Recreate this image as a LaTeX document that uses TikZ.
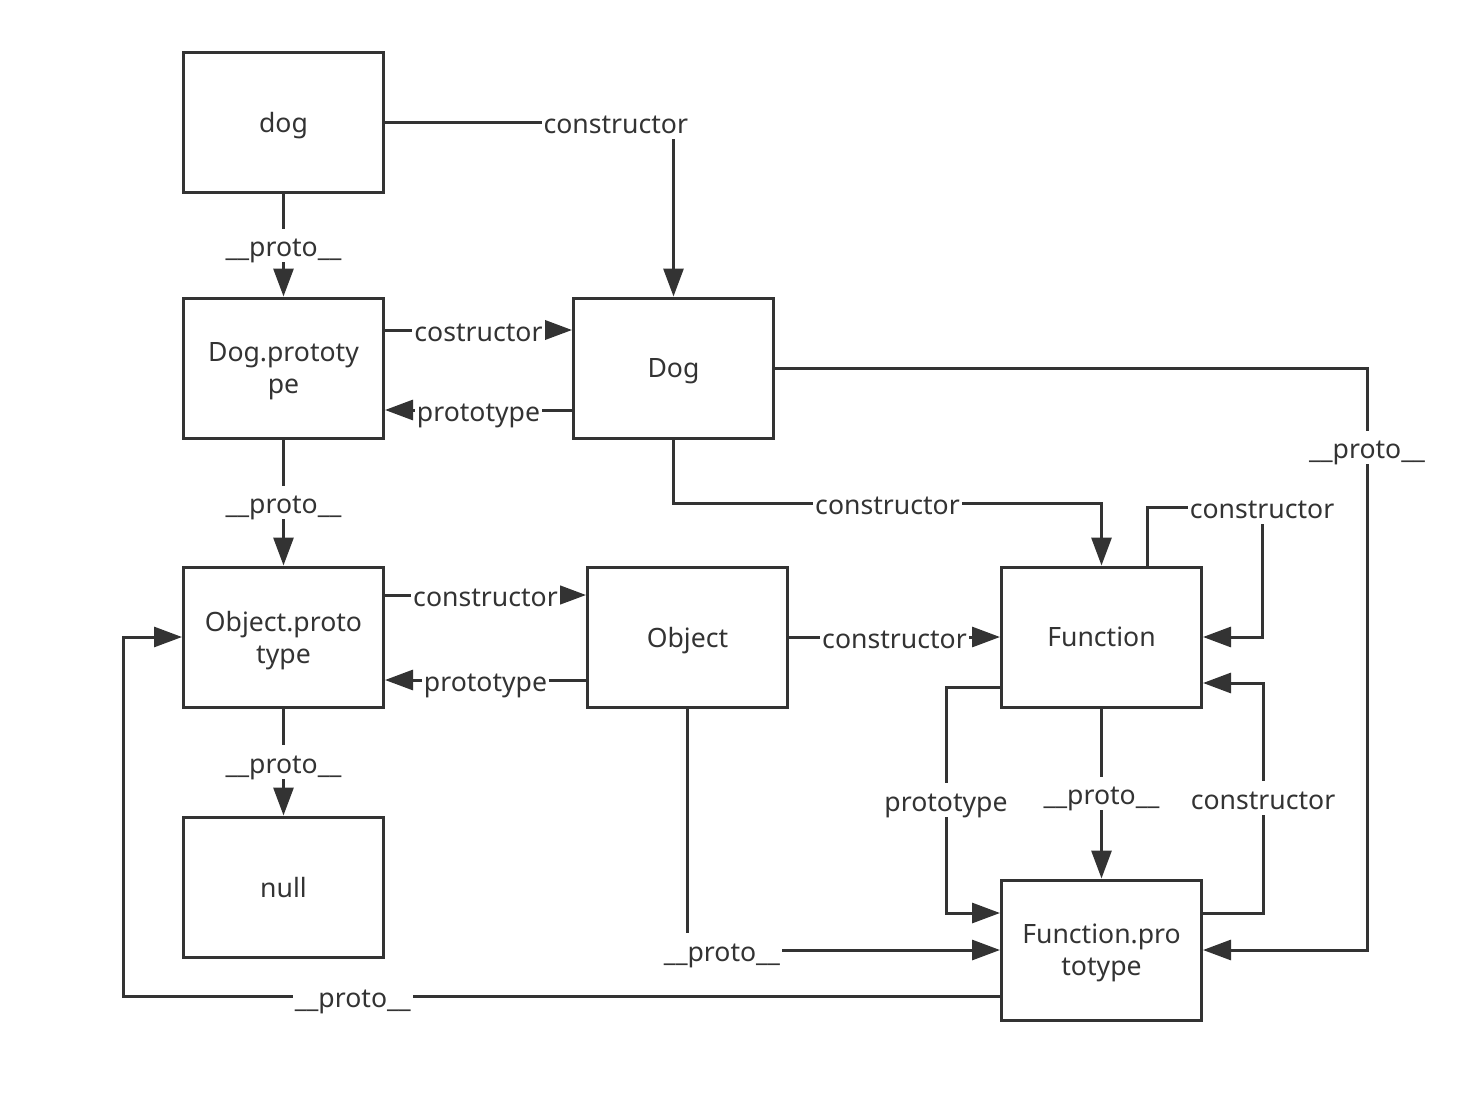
\documentclass[tikz,border=0pt]{standalone}
\usepackage{fontspec}
\setmainfont{Noto Sans}
\usepackage{xcolor}
\usepackage{tikz}
\usetikzlibrary{arrows.meta}
\definecolor{ink}{HTML}{333333}

\begin{document}
\begin{tikzpicture}[x=0.5pt,y=-0.5pt,line width=1.5pt,color=ink,
        font=\fontsize{13.3pt}{16pt}\selectfont,
        box/.style={draw,minimum width=100pt,minimum height=70pt,align=center,inner sep=2pt,text depth=0pt},
        lbl/.style={fill=white,inner sep=1pt,text height=13pt,text depth=1.6pt},
        arr/.style={-{Triangle[length=14pt,width=10pt]}}]
        \useasboundingbox (0,0) rectangle (1463,1093);

        \node[box] (dogobj) at (283.5,122.5) {dog};
        \node[box] (dogproto) at (283.5,368) {Dog.prototy\\pe};
        \node[box] (Dogfn) at (673.5,368) {Dog};
        \node[box] (objproto) at (283.5,637) {Object.proto\\type};
        \node[box] (Objfn) at (687.5,637) {Object};
        \node[box] (Func) at (1101.5,637) {Function};
        \node[box] (nullbox) at (283.5,887) {null};
        \node[box] (funcproto) at (1101.5,950) {Function.pro\\totype};

        \draw[arr] (dogobj.east) -| node[lbl,pos=0.4]{constructor} (Dogfn.north);
        \draw[arr] (dogobj.south) -- node[lbl]{\_\_proto\_\_} (dogproto.north);
        \draw[arr] ([yshift=19pt]dogproto.east) -- node[lbl]{costructor} ([yshift=19pt]Dogfn.west);
        \draw[arr] ([yshift=-21pt]Dogfn.west) -- node[lbl]{prototype} ([yshift=-21pt]dogproto.east);
        \draw[arr] (Dogfn.east) -- (1367,368) -- node[lbl,pos=0.136]{\_\_proto\_\_} (1367,950) -- (funcproto.east);
        \draw[arr] (Dogfn.south) -- ++(0,64) -| node[lbl,pos=0.25]{constructor} (Func.north);
        \draw[arr] (dogproto.south) -- node[lbl]{\_\_proto\_\_} (objproto.north);

        \draw[arr] ([yshift=21pt]objproto.east) -- node[lbl]{constructor} ([yshift=21pt]Objfn.west);
        \draw[arr] ([yshift=-21.5pt]Objfn.west) -- node[lbl]{prototype} ([yshift=-21.5pt]objproto.east);
        \draw[arr] (Objfn.east) -- node[lbl]{constructor} (Func.west);
        \draw[arr] (objproto.south) -- node[lbl]{\_\_proto\_\_} (nullbox.north);
        \draw[arr] (Objfn.south) |- node[lbl,pos=0.555]{\_\_proto\_\_} (funcproto.west);

        \draw[arr] ([xshift=23pt]Func.north) |- (1262,507) node[lbl]{constructor} |- (Func.east);
        \draw[arr] ([yshift=-25pt]Func.west) -- ++(-54,0) -- node[lbl]{prototype} ++(0,226) -- ([yshift=18.5pt]funcproto.west);
        \draw[arr] (Func.south) -- node[lbl]{\_\_proto\_\_} (funcproto.north);
        \draw[arr] ([yshift=18.5pt]funcproto.east) -- ++(60,0) -- node[lbl]{constructor} ++(0,-230) -- ([yshift=-23pt]Func.east);
        \draw[arr] ([yshift=-23pt]funcproto.west) -- node[lbl,pos=0.738]{\_\_proto\_\_} (123,996) -- (123,637) -- (objproto.west);
\end{tikzpicture}
\end{document}
